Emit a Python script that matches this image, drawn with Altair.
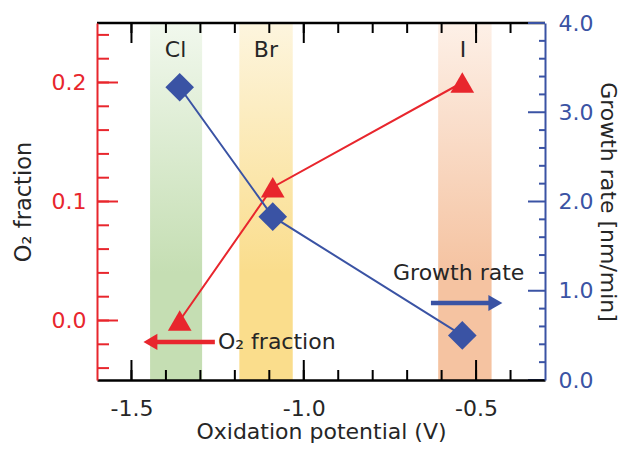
import altair as alt
import pandas as pd

# ---------------- data ----------------
elements = ["Cl", "Br", "I"]
potential = [-1.36, -1.09, -0.54]
o2_fraction = [0.0, 0.112, 0.2]
growth_rate = [3.28, 1.83, 0.50]

label_x = [-1.372, -1.110, -0.538]
band_lo = [-1.446, -1.187, -0.610]
band_hi = [-1.295, -1.032, -0.455]
band_top = ["#f1f8ed", "#fdf5de", "#fdf0e7"]
band_bottom = ["#c5deb3", "#fadd8c", "#f5c3a1"]

x_major = [-1.5, -1.0, -0.5]
x_minor = [-1.5, -1.4, -1.3, -1.2, -1.1, -1.0, -0.9, -0.8, -0.7, -0.6, -0.5, -0.4]
o2_major = [0.0, 0.1, 0.2]
o2_minor = [-0.04, -0.02, 0.0, 0.02, 0.04, 0.06, 0.08, 0.10, 0.12, 0.14,
            0.16, 0.18, 0.20, 0.22, 0.24]
gr_major = [0.0, 1.0, 2.0, 3.0, 4.0]
gr_minor = [0.2, 0.4, 0.6, 0.8, 1.2, 1.4, 1.6, 1.8, 2.2, 2.4, 2.6, 2.8,
            3.2, 3.4, 3.6, 3.8]

# annotation arrows / texts
o2_arrow_x = [-1.258]
o2_arrow_x2 = [-1.445]
o2_arrow_y = [-0.018]
o2_text_x = [-1.249]
o2_text = ["O\u2082 fraction"]

gr_arrow_x = [-0.631]
gr_arrow_x2 = [-0.444]
gr_arrow_y = [0.863]
gr_text_x = [-0.741]
gr_text_y = [1.20]
gr_text = ["Growth rate"]

# ---------------- style ----------------
W, H = 448, 357
RED = "#e8262d"
BLUE = "#3a53a4"
INK = "#262626"
FONT = "DejaVu Sans"

xscale = alt.Scale(domain=[-1.6, -0.3], nice=False, zero=False)
lscale = alt.Scale(domain=[-0.05, 0.25], nice=False, zero=False)
rscale = alt.Scale(domain=[0, 4], nice=False, zero=False)

pts = pd.DataFrame({"element": elements, "potential": potential,
                    "o2": o2_fraction, "growth": growth_rate, "lx": label_x})

# one identical x axis definition shared by every layer (so they merge)
x_axis = alt.Axis(
    orient="bottom", zindex=1,
    values=x_major, format=".1f", labelExpr="replace(datum.label, '\u2212', '-')",
    ticks=False, domainColor="black", domainWidth=2.5,
    labelColor=INK, labelFontSize=22, labelPadding=18, labelFont=FONT,
    title="Oxidation potential (V)", titleColor=INK, titleFontSize=22,
    titleFontWeight="normal", titleFont=FONT, titlePadding=2, grid=False)


def xenc(field):
    return alt.X(field, type="quantitative", scale=xscale, axis=x_axis)


def ly(field):
    return alt.Y(field, type="quantitative", scale=lscale, axis=None)


def ry(field):
    return alt.Y(field, type="quantitative", scale=rscale, axis=None)


left_axis = alt.Axis(
    orient="left", zindex=1, values=o2_major, format=".1f",
    labelExpr="replace(datum.label, '\u2212', '-')",
    ticks=False, domainColor=RED, domainWidth=2,
    labelColor=RED, labelFontSize=22, labelPadding=11, labelFont=FONT,
    title="O\u2082 fraction", titleColor=INK, titleFontSize=22.5,
    titleFontWeight="normal", titleFont=FONT, titlePadding=16, grid=False)

right_axis = alt.Axis(
    orient="right", zindex=1, values=gr_major, format=".1f",
    ticks=False, domainColor=BLUE, domainWidth=2,
    labelColor=BLUE, labelFontSize=22, labelPadding=13, labelFont=FONT,
    title="Growth rate [nm/min]", titleColor=INK, titleFontSize=22,
    titleFontWeight="normal", titleFont=FONT, titlePadding=3, grid=False)

layers = []

# ---------------- shaded bands ----------------
for i in range(3):
    bdf = pd.DataFrame({"lo": [band_lo[i]], "hi": [band_hi[i]]})
    grad = alt.Gradient(
        gradient="linear",
        stops=[alt.GradientStop(color=band_top[i], offset=0),
               alt.GradientStop(color=band_bottom[i], offset=0.7),
               alt.GradientStop(color=band_bottom[i], offset=1)],
        x1=0, x2=0, y1=0, y2=1,
    )
    layers.append(
        alt.Chart(bdf).mark_rect(color=grad).encode(
            x=xenc("lo"), x2="hi:Q", y=alt.value(0), y2=alt.value(H))
    )

# frame top line
layers.append(alt.Chart(pd.DataFrame({"v": [0]})).mark_rule(
    color="black", strokeWidth=2.5).encode(
    x=alt.value(0), x2=alt.value(W), y=alt.value(0)))

# x ticks (inside, top and bottom)
xmin_df = pd.DataFrame({"v": x_minor})
xmaj_df = pd.DataFrame({"v": x_major})
for df_, ln in ((xmin_df, 10), (xmaj_df, 20)):
    layers.append(alt.Chart(df_).mark_rule(color="black", strokeWidth=2).encode(
        x=xenc("v"), y=alt.value(H - ln), y2=alt.value(H)))
    layers.append(alt.Chart(df_).mark_rule(color="black", strokeWidth=2).encode(
        x=xenc("v"), y=alt.value(0), y2=alt.value(ln)))

# element labels
layers.append(alt.Chart(pts).mark_text(
    font=FONT, fontSize=22, color=INK, baseline="middle", align="center").encode(
    x=xenc("lx"), y=alt.value(27), text="element:N"))

# ---------------- left (O2 fraction) ----------------
lmin_df = pd.DataFrame({"v": o2_minor})
lmaj_df = pd.DataFrame({"v": o2_major})
layers.append(alt.Chart(lmin_df).mark_rule(color=RED, strokeWidth=2).encode(
    y=ly("v"), x=alt.value(0), x2=alt.value(12)))
layers.append(alt.Chart(lmaj_df).mark_rule(color=RED, strokeWidth=2).encode(
    y=ly("v"), x=alt.value(0), x2=alt.value(21)))

layers.append(alt.Chart(pts).mark_line(color=RED, strokeWidth=2).encode(
    x=xenc("potential"),
    y=alt.Y("o2:Q", scale=lscale, axis=left_axis)))

o2_arrow_df = pd.DataFrame({"x": o2_arrow_x, "x2": o2_arrow_x2, "y": o2_arrow_y,
                            "tx": o2_text_x, "t": o2_text})
layers.append(alt.Chart(o2_arrow_df).mark_rule(color=RED, strokeWidth=4.5).encode(
    x=xenc("x"), x2="x2:Q", y=ly("y")))
layers.append(alt.Chart(o2_arrow_df).mark_point(
    shape="triangle-left", filled=True, opacity=1, size=260, color=RED).encode(
    x=xenc("x2"), y=ly("y")))
layers.append(alt.Chart(o2_arrow_df).mark_text(
    font=FONT, fontSize=22, color=INK, align="left", baseline="middle").encode(
    x=xenc("tx"), y=ly("y"), text="t:N"))
layers.append(alt.Chart(pts).mark_point(
    shape="triangle-up", filled=True, opacity=1, size=560, color=RED).encode(
    x=xenc("potential"), y=ly("o2")))

# ---------------- right (growth rate) ----------------
layers.append(alt.Chart(pts).mark_line(color=BLUE, strokeWidth=2).encode(
    x=xenc("potential"),
    y=alt.Y("growth:Q", scale=rscale, axis=right_axis)))

rmin_df = pd.DataFrame({"v": gr_minor})
rmaj_df = pd.DataFrame({"v": gr_major})
layers.append(alt.Chart(rmin_df).mark_rule(color=BLUE, strokeWidth=2).encode(
    y=ry("v"), x=alt.value(W - 6), x2=alt.value(W)))
layers.append(alt.Chart(rmaj_df).mark_rule(color=BLUE, strokeWidth=2).encode(
    y=ry("v"), x=alt.value(W - 17), x2=alt.value(W)))

gr_arrow_df = pd.DataFrame({"x": gr_arrow_x, "x2": gr_arrow_x2, "y": gr_arrow_y,
                            "tx": gr_text_x, "ty": gr_text_y, "t": gr_text})
layers.append(alt.Chart(gr_arrow_df).mark_rule(color=BLUE, strokeWidth=4.5).encode(
    x=xenc("x"), x2="x2:Q", y=ry("y")))
layers.append(alt.Chart(gr_arrow_df).mark_point(
    shape="triangle-right", filled=True, opacity=1, size=260, color=BLUE).encode(
    x=xenc("x2"), y=ry("y")))
layers.append(alt.Chart(gr_arrow_df).mark_text(
    font=FONT, fontSize=22, color=INK, align="left", baseline="middle").encode(
    x=xenc("tx"), y=ry("ty"), text="t:N"))
layers.append(alt.Chart(pts).mark_point(
    shape="diamond", filled=True, opacity=1, size=820, color=BLUE).encode(
    x=xenc("potential"), y=ry("growth")))

chart = alt.layer(*layers).resolve_scale(y="independent").properties(
    width=W, height=H,
    autosize=alt.AutoSizeParams(type="none"),
    padding={"left": 89, "top": 15, "right": 77, "bottom": 66},
).configure_view(stroke=None)

chart.save("out.html", embed_options={"renderer": "svg", "actions": False})
